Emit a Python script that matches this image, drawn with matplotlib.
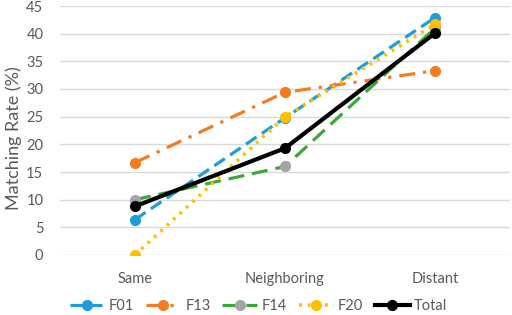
import matplotlib
matplotlib.use('Agg')
import matplotlib.pyplot as plt

categories = ['Same', 'Neighboring', 'Distant']
f01 = [6.4, 24.8, 42.9]
f13 = [16.7, 29.4, 33.3]
f14 = [10.0, 16.0, 41.0]
f20 = [0.0, 25.0, 41.7]
total = [8.8, 19.3, 40.1]

plt.rcParams['font.family'] = ['Lato', 'DejaVu Sans']
grey = '#595959'

fig = plt.figure(figsize=(5.12, 3.15), dpi=100)
ax = fig.add_axes([60/512, 60/315, 450/512, 249/315])

x = range(len(categories))
ax.plot(x, f01, label='F01', color='#1E9DDB', linestyle=(0, (4, 2)), linewidth=2.3,
        marker='o', markersize=7)
ax.plot(x, f13, label='F13', color='#F47B20', linestyle=(0, (5, 2.5, 1, 2.5)), linewidth=2.3,
        marker='o', markersize=7)
ax.plot(x, f14, label='F14', color='#3CA83A', linestyle=(0, (5, 2.5)), linewidth=2.3,
        marker='o', markersize=7, markerfacecolor='#A5A5A5', markeredgecolor='#A5A5A5')
ax.plot(x, f20, label='F20', color='#FFC000', linestyle=(0, (0.8, 1.6)), linewidth=2.6,
        marker='o', markersize=7)
ax.plot(x, total, label='Total', color='black', linewidth=3,
        marker='o', markersize=7)

ax.set_xlim(-0.5, 2.5)
ax.set_ylim(0, 45)
ax.set_yticks(range(0, 46, 5))
ax.set_xticks(list(x))
ax.set_xticklabels(categories)
ax.grid(axis='y', color='#D9D9D9', linewidth=1)
ax.set_axisbelow(True)
for s in ax.spines.values():
    s.set_visible(False)
ax.tick_params(length=0, colors=grey, labelsize=10.5)
ax.tick_params(axis='x', pad=12)
ax.tick_params(axis='y', pad=12)
ax.set_ylabel('Matching Rate (%)', color=grey, fontsize=13)
ax.yaxis.set_label_coords(-0.085, 0.47)

fig.legend(loc='center', bbox_to_anchor=(0.505, 0.027), ncol=5, frameon=False,
           fontsize=10.5, labelcolor=grey, handlelength=2.4, handletextpad=0.3,
           columnspacing=0.8, borderaxespad=0, borderpad=0)

fig.savefig('out.png', dpi=100)
